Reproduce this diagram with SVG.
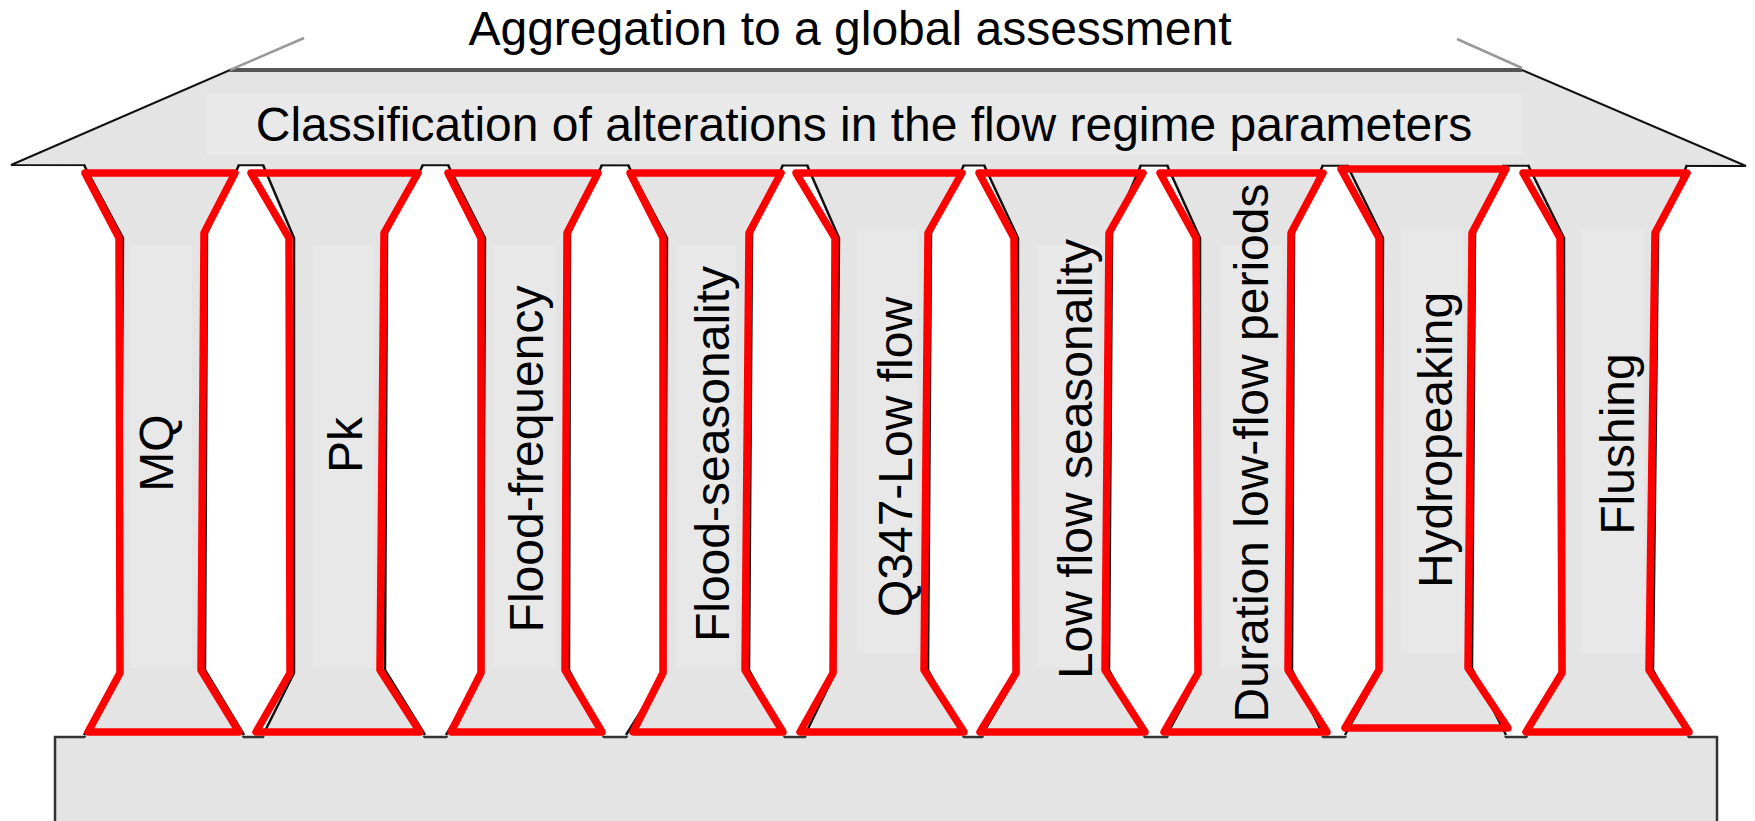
<svg xmlns="http://www.w3.org/2000/svg" width="1755" height="821" viewBox="0 0 1755 821">
<style>
.bg{fill:#ffffff}
.fillg{fill:#e4e4e4;stroke:none}
.shaft{fill:#e8e8e8;stroke:none}
.blk{fill:none;stroke:#111;stroke-width:2.5;stroke-linejoin:miter}
.red{fill:none;stroke:#ff0000;stroke-width:7.5;stroke-linejoin:round}
.t{font-family:"Liberation Sans",Arial,sans-serif;font-size:48px;fill:#000}
.vt{font-family:"Liberation Sans",Arial,sans-serif;font-size:48px;fill:#000;text-anchor:middle}
</style>
<rect class="bg" x="0" y="0" width="1755" height="821"/>
<g id="base">
<rect x="55" y="737" width="1662" height="110" fill="#e4e4e4" stroke="#333" stroke-width="2.5"/>
</g>
<g id="roof">
<polygon points="11,165 230,70 1522,70 1746,166" fill="#e4e4e4" stroke="#111" stroke-width="2"/>
<rect x="207" y="94" width="1315" height="61" fill="#e9e9e9"/>
<line x1="230" y1="70" x2="1522" y2="70" stroke="#555" stroke-width="4"/>
<line x1="230" y1="70" x2="304" y2="38" stroke="#999" stroke-width="2.5"/>
<line x1="1457" y1="39" x2="1522" y2="68" stroke="#999" stroke-width="2.5"/>
<text class="t" x="850" y="45" text-anchor="middle">Aggregation to a global assessment</text>
<text class="t" x="864" y="141" text-anchor="middle">Classification of alterations in the flow regime parameters</text>
</g>
<g id="col-mq">
<polygon class="fillg" points="84,162 123,238 122,673 84,740 244,740 205,670 207,233 239,162"/>
<polyline class="blk" points="84,165 123,238 120,673 84,735"/>
<polyline class="blk" points="239,165 207,233 205,670 244,735"/>
<rect class="shaft" x="131" y="245" width="61" height="423"/>
<polygon class="red" points="85,173 119,238 120,673 88,732 239,732 201,670 204,233 235,173"/>
<text class="vt" transform="translate(173,453) rotate(-90)">MQ</text>
</g>
<g id="col-pk">
<polygon class="fillg" points="263,162 293,238 292,673 263,740 425,740 384,670 387,233 423,162"/>
<polyline class="blk" points="263,165 294,238 294,673 263,735"/>
<polyline class="blk" points="423,165 387,233 385,670 425,735"/>
<rect class="shaft" x="313" y="245" width="60" height="423"/>
<polygon class="red" points="251,173 289,238 290,673 256,732 420,732 380,670 384,233 418,173"/>
<text class="vt" transform="translate(362,445) rotate(-90)">Pk</text>
</g>
<g id="col-flood-frequency">
<polygon class="fillg" points="448,162 485,238 483,673 446,740 604,740 569,670 570,233 602,162"/>
<polyline class="blk" points="448,165 485,238 483,673 446,735"/>
<polyline class="blk" points="602,165 570,233 569,670 604,735"/>
<rect class="shaft" x="494" y="245" width="62" height="423"/>
<polygon class="red" points="448,173 481,238 481,673 451,732 602,732 565,670 567,233 598,173"/>
<text class="vt" transform="translate(543,459) rotate(-90)">Flood-frequency</text>
</g>
<g id="col-flood-seasonality">
<polygon class="fillg" points="628,162 667,238 665,673 626,740 785,740 749,670 752,233 783,162"/>
<polyline class="blk" points="628,165 667,238 665,673 626,735"/>
<polyline class="blk" points="783,165 752,233 749,670 785,735"/>
<rect class="shaft" x="676" y="245" width="60" height="423"/>
<polygon class="red" points="630,173 663,238 663,673 633,732 783,732 745,670 749,233 781,173"/>
<text class="vt" transform="translate(729,454) rotate(-90)">Flood-seasonality</text>
</g>
<g id="col-q347">
<polygon class="fillg" points="807,162 839,238 835,673 805,740 964,740 928,670 931,233 964,162"/>
<polyline class="blk" points="807,165 839,238 835,673 805,735"/>
<polyline class="blk" points="964,165 931,233 928,670 964,735"/>
<rect class="shaft" x="857" y="230" width="60" height="423"/>
<polygon class="red" points="796,173 835,238 833,673 800,732 964,732 924,670 928,233 962,173"/>
<text class="vt" transform="translate(912,457) rotate(-90)">Q347-Low flow</text>
</g>
<g id="col-low-flow-seasonality">
<polygon class="fillg" points="984,162 1018,238 1018,673 982,740 1145,740 1109,670 1112,233 1141,162"/>
<polyline class="blk" points="984,165 1018,238 1018,673 982,735"/>
<polyline class="blk" points="1141,165 1112,233 1109,670 1145,735"/>
<rect class="shaft" x="1038" y="245" width="62" height="423"/>
<polygon class="red" points="979,173 1014,238 1016,673 980,732 1145,732 1105,670 1109,233 1143,173"/>
<text class="vt" transform="translate(1092,459) rotate(-90)">Low flow seasonality</text>
</g>
<g id="col-duration">
<polygon class="fillg" points="1167,162 1200,238 1200,673 1167,740 1323,740 1292,670 1294,233 1323,162"/>
<polyline class="blk" points="1167,165 1200,238 1200,673 1167,735"/>
<polyline class="blk" points="1323,165 1294,233 1292,670 1323,735"/>
<rect class="shaft" x="1220" y="245" width="62" height="423"/>
<polygon class="red" points="1160,173 1196,238 1198,673 1164,732 1327,732 1288,670 1291,233 1323,173"/>
<text class="vt" transform="translate(1268,453) rotate(-90)">Duration low-flow periods</text>
</g>
<g id="col-hydropeaking">
<polygon class="fillg" points="1347,162 1383,238 1381,670 1345,740 1506,740 1472,668 1475,233 1504,162"/>
<polyline class="blk" points="1347,165 1383,238 1381,670 1345,735"/>
<polyline class="blk" points="1504,165 1475,233 1472,668 1506,735"/>
<rect class="shaft" x="1401" y="230" width="62" height="423"/>
<polygon class="red" points="1341,169 1379,238 1379,670 1345,728 1508,728 1468,668 1472,233 1506,169"/>
<text class="vt" transform="translate(1452,440) rotate(-90)">Hydropeaking</text>
</g>
<g id="col-flushing">
<polygon class="fillg" points="1528,162 1564,238 1564,673 1526,740 1689,740 1653,670 1658,233 1687,162"/>
<polyline class="blk" points="1528,165 1564,238 1564,673 1526,735"/>
<polyline class="blk" points="1687,165 1658,233 1653,670 1689,735"/>
<rect class="shaft" x="1582" y="230" width="62" height="423"/>
<polygon class="red" points="1523,173 1560,238 1562,673 1526,732 1689,732 1649,670 1655,233 1687,173"/>
<text class="vt" transform="translate(1634,444) rotate(-90)">Flushing</text>
</g>
</svg>
